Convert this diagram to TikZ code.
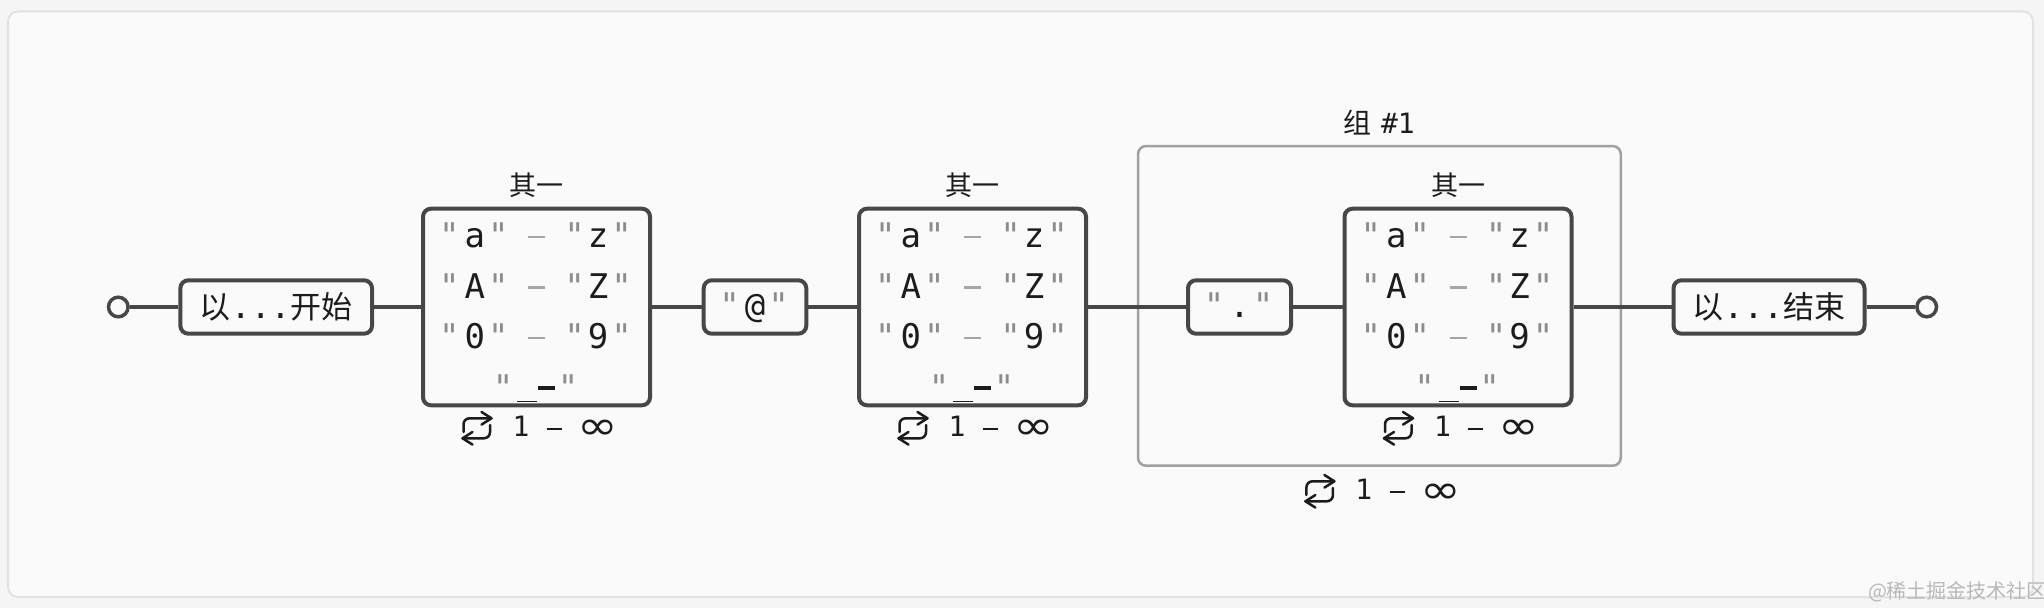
\documentclass[tikz,border=0pt]{standalone}
\usepackage{fontspec}
\newfontfamily\monof{DejaVu Sans Mono}
\newfontfamily\cjkf{Noto Sans CJK SC}
\newfontfamily\dvsf{DejaVu Sans}
\definecolor{boxc}{HTML}{474747}
\definecolor{txtc}{HTML}{1C1C1C}
\definecolor{quotec}{HTML}{8C8C8C}
\definecolor{dashc}{HTML}{A6A6A6}
\definecolor{groupc}{HTML}{A0A0A0}
\definecolor{panelc}{HTML}{FAFAFA}
\definecolor{pagec}{HTML}{F5F5F5}
\definecolor{panelborder}{HTML}{E2E2E2}
\definecolor{wmc}{HTML}{B8B8B8}

\newcommand\RangeRow[5]{%
  \node[qglyph] (#1a) at ({#2-87.2},#3) {"};
  \node[glyph]  (#1b) at ({#2-61.7},#3) {#4};
  \node[qglyph] (#1c) at ({#2-38.2},#3) {"};
  \draw[rowdash] ({#2-8.5},{#3-11}) -- ({#2+8.5},{#3-11});
  \node[qglyph] (#1d) at ({#2+38.2},#3) {"};
  \node[glyph]  (#1e) at ({#2+61.7},#3) {#5};
  \node[qglyph] (#1f) at ({#2+85.2},#3) {"};
}
\newcommand\UnderRow[3]{%
  \node[qglyph] (#1a) at ({#2-33.5},#3) {"};
  \draw[txtc, line width=0.6pt] ({#2-19.5},{#3+2.2}) -- ({#2+0.5},{#3+2.2});
  \draw[txtc, line width=2pt] ({#2+1.5},{#3-11.3}) -- ({#2+18.5},{#3-11.3});
  \node[qglyph] (#1b) at ({#2+31.5},#3) {"};
}
\newcommand\RepLabel[3]{%
  \draw[iconline, rounded corners=3pt] ({#2-73},{#3+6}) -- ({#2-73},{#3-7.7}) -- ({#2-45.5},{#3-7.7});
  \draw[iconline] ({#2-55},{#3-14}) -- ({#2-45},{#3-7.7}) -- ({#2-55},{#3-1.4});
  \draw[iconline, rounded corners=3pt] ({#2-46.5},{#3-1}) -- ({#2-46.5},{#3+12.3}) -- ({#2-74},{#3+12.3});
  \draw[iconline] ({#2-64},{#3+6}) -- ({#2-74},{#3+12.3}) -- ({#2-64},{#3+18.6});
  \node[replab] (#1one) at ({#2-15.5},{#3+10.7}) {1};
  \draw[txtc, line width=1.4pt] ({#2+10.2},{#3+3}) -- ({#2+25.2},{#3+3});
  \node[inflab] (#1inf) at ({#2+61},{#3+14}) {\scalebox{1.22}[1]{∞}};
}
\newcommand\ChoiceBox[2]{%
  \node[choicebox] (#1) at (#2,307) {};
  \node[titlef] (#1title) at (#2,185) {其一};
  \RangeRow{#1r1}{#2}{248}{a}{z}
  \RangeRow{#1r2}{#2}{298.5}{A}{Z}
  \RangeRow{#1r3}{#2}{349}{0}{9}
  \UnderRow{#1r4}{#2}{399.5}
  \RepLabel{#1rep}{#2}{426}
}

\begin{document}
\begin{tikzpicture}[x=0.5pt,y=-0.5pt,
  box/.style={draw=boxc, line width=2pt, rounded corners=4pt, fill=panelc, inner sep=0pt},
  smallbox/.style={box, minimum height=26.7pt, font={\fontsize{15.5pt}{18pt}\selectfont}, text=txtc},
  choicebox/.style={box, minimum width=113.5pt, minimum height=98.3pt},
  conn/.style={draw=boxc, line width=1.75pt},
  term/.style={circle, draw=boxc, line width=1.75pt, fill=panelc, minimum size=9.8pt, inner sep=0pt},
  glyph/.style={inner sep=0pt, anchor=base, font={\monof\fontsize{17pt}{20pt}\selectfont}, text=txtc},
  qglyph/.style={glyph, text=quotec},
  rowdash/.style={draw=dashc, line width=1.3pt},
  titlef/.style={inner sep=0pt, font={\cjkf\fontsize{13.5pt}{16pt}\selectfont}, text=txtc},
  iconline/.style={draw=txtc, line width=1.25pt, line join=round, line cap=round},
  replab/.style={inner sep=0pt, anchor=base, font={\monof\fontsize{14pt}{16pt}\selectfont}, text=txtc},
  inflab/.style={inner sep=0pt, anchor=base, font={\dvsf\fontsize{20pt}{24pt}\selectfont}, text=txtc},
  groupbox/.style={draw=groupc, line width=1.25pt, rounded corners=4pt, inner sep=0pt}
]
\useasboundingbox (0,0) rectangle (2044,608);
\fill[pagec] (0,0) rectangle (2044,608);
\draw[panelborder, fill=panelc, line width=1pt, rounded corners=5pt] (8,11.5) rectangle (2033,597);

% group
\node[groupbox, minimum width=241.35pt, minimum height=159.85pt] (grp) at (1379.4,305.9) {};
\node[titlef, font={\fontsize{14pt}{16pt}\selectfont}] (grptitle) at (1379.4,122.5) {{\cjkf 组} {\monof\#1}};
\RepLabel{grprep}{1379.4}{489}

% terminals and simple boxes
\node[term] (start) at (118.3,307) {};
\node[smallbox, minimum width=95.85pt] (sbox) at (276.2,307) {{\cjkf 以}{\monof\fontsize{16.5pt}{18pt}\selectfont ...}{\cjkf 开始}};
\ChoiceBox{c1}{536.5}
\node[smallbox, minimum width=51.3pt] (atbox) at (755,307) {};
\node[qglyph] (atq1) at (729.5,318) {"};
\node[glyph]  (atch) at (755,318) {@};
\node[qglyph] (atq2) at (778.5,318) {"};
\ChoiceBox{c2}{972.5}
\node[smallbox, minimum width=51.5pt] (dotbox) at (1239.5,307) {};
\node[qglyph] (dtq1) at (1214,318) {"};
\node[glyph]  (dtch) at (1239.5,318) {.};
\node[qglyph] (dtq2) at (1263,318) {"};
\ChoiceBox{c3}{1458}
\node[smallbox, minimum width=95.5pt] (ebox) at (1769,307) {{\cjkf 以}{\monof\fontsize{16.5pt}{18pt}\selectfont ...}{\cjkf 结束}};
\node[term] (end) at (1926.7,307) {};

% connectors
\draw[conn] (start) -- (sbox);
\draw[conn] (sbox) -- (c1);
\draw[conn] (c1) -- (atbox);
\draw[conn] (atbox) -- (c2);
\draw[conn] (c2) -- (dotbox);
\draw[conn] (dotbox) -- (c3);
\draw[conn] (c3) -- (ebox);
\draw[conn] (ebox) -- (end);

% watermark
\node[inner sep=0pt, text=wmc, font={\cjkf\fontsize{10pt}{12pt}\selectfont}] (wm) at (1957.5,591.7) {@稀土掘金技术社区};
\end{tikzpicture}
\end{document}
